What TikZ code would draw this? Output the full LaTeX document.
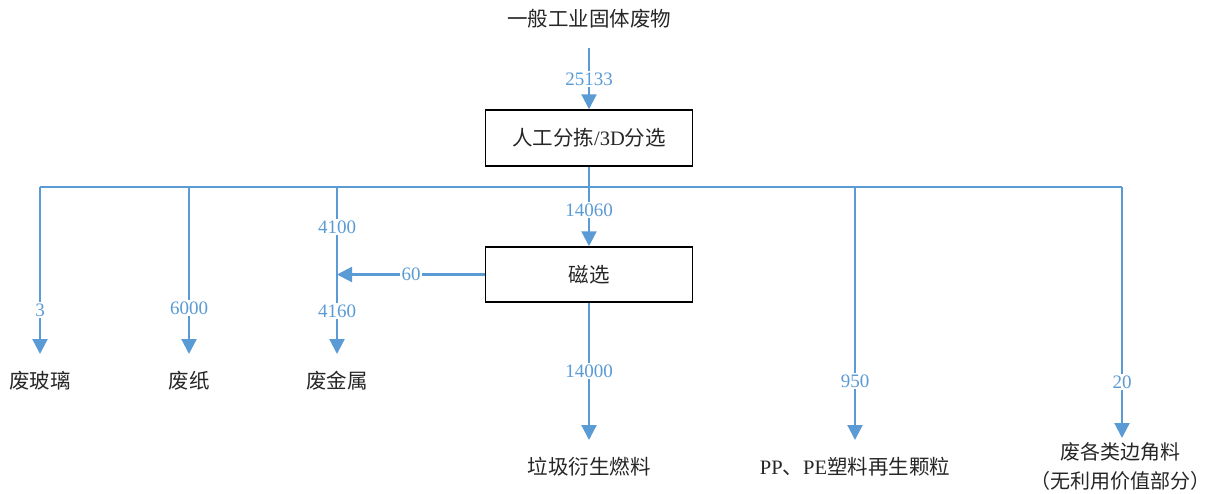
\documentclass[tikz,border=0pt]{standalone}
\usepackage{fontspec}
\setmainfont{Liberation Serif}
\newfontfamily\cjk{Noto Sans CJK SC}
\usetikzlibrary{arrows.meta}
\definecolor{flowblue}{HTML}{5B9BD5}
\definecolor{txt}{HTML}{262626}
\tikzset{
  line/.style={draw=flowblue,line width=2.2pt},
  flow/.style={line,-{Triangle[width=15pt,length=15pt]}},
  boxnode/.style={draw=black,line width=1.5pt,minimum width=207pt,minimum height=56pt,inner sep=0pt,text=txt,font=\fontsize{20.5}{24}\selectfont},
  lbl/.style={fill=white,text=flowblue,inner sep=1.5pt,font=\fontsize{19}{21}\selectfont},
  outnode/.style={text=txt,inner sep=0pt,align=center,font=\fontsize{20.5}{29}\selectfont\cjk}
}
\begin{document}
\begin{tikzpicture}[x=1pt,y=-1pt]
\useasboundingbox (0,0) rectangle (1210,493);
% nodes
\node[outnode] (src) at (589,19) {一般工业固体废物};
\node[boxnode] (box1) at (589,138) {{\cjk 人工分拣}/3D{\cjk 分选}};
\node[boxnode,minimum height=55pt] (box2) at (589,274.5) {\cjk 磁选};
\node[outnode] (glass) at (40,381) {废玻璃};
\node[outnode] (paper) at (189,381) {废纸};
\node[outnode] (metal) at (337,381) {废金属};
\node[outnode] (rdf) at (589,467) {垃圾衍生燃料};
\node[outnode] (pp) at (855,467) {{\rmfamily PP}、{\rmfamily PE}塑料再生颗粒};
\node[outnode,font=\fontsize{20}{29}\selectfont\cjk] (scrap) at (1120,466) {废各类边角料\\（无利用价值部分）};
% coordinates
\coordinate (s0) at (589,48);
\coordinate (bm) at (589,187);
\coordinate (bL) at (40,187);
\coordinate (b2) at (189,187);
\coordinate (b3) at (337,187);
\coordinate (b5) at (855,187);
\coordinate (bR) at (1122,187);
\coordinate (t1) at (40,354);
\coordinate (t2) at (189,354);
\coordinate (t3) at (337,354);
\coordinate (t4) at (589,440);
\coordinate (t5) at (855,440);
\coordinate (t6) at (1122,438);
% connectors
\draw[flow] (s0) -- (box1.north);
\draw[line] (box1.south) -- (bm);
\draw[flow] (bm) -- (box2.north);
\draw[line] (bL) -- (bR);
\draw[flow] (bL) -- (t1);
\draw[flow] (b2) -- (t2);
\draw[flow] (b3) -- (t3);
\draw[flow] (box2.west) -- (box2.west -| b3);
\draw[flow] (box2.south) -- (t4);
\draw[flow] (b5) -- (t5);
\draw[flow] (bR) -- (t6);
% labels
\node[lbl] (l0) at (589,79) {25133};
\node[lbl] (l1) at (589,210) {14060};
\node[lbl] (l2) at (40,310) {3};
\node[lbl] (l3) at (189,308) {6000};
\node[lbl] (l4) at (337,227) {4100};
\node[lbl] (l5) at (337,311) {4160};
\node[lbl] (l6) at (411,274.5) {60};
\node[lbl] (l7) at (589,371) {14000};
\node[lbl] (l8) at (855,381) {950};
\node[lbl] (l9) at (1122,382) {20};
\end{tikzpicture}
\end{document}
